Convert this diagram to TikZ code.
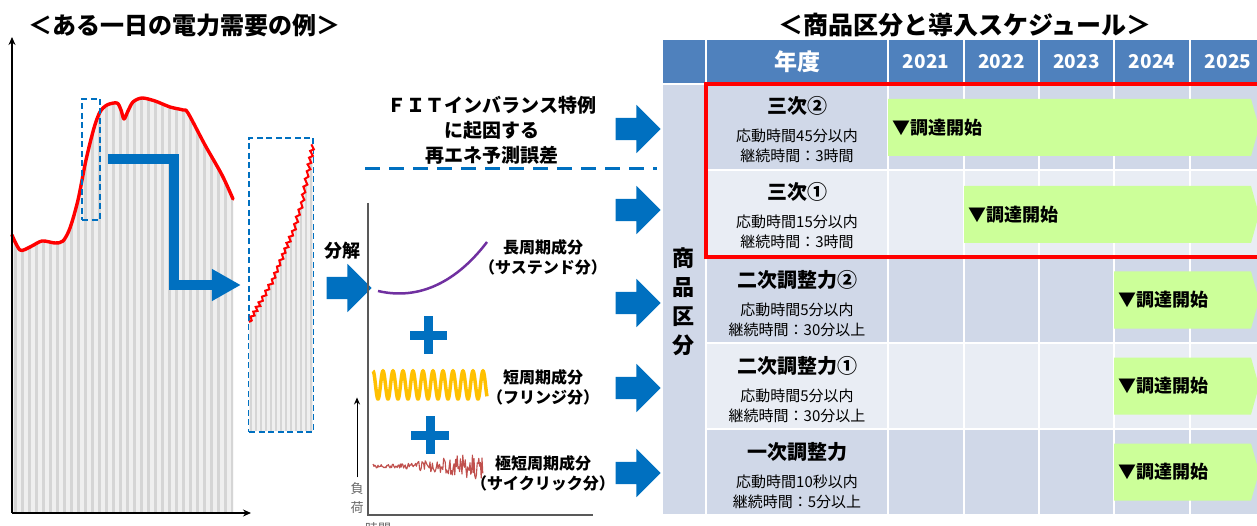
\documentclass[tikz,border=0pt]{standalone}
\usepackage{fontspec}
\setmainfont{Noto Sans CJK JP}
\usetikzlibrary{arrows.meta,shapes.arrows}
\definecolor{barrow}{HTML}{0070C0}
\definecolor{hdr}{HTML}{4F81BD}
\definecolor{rowd}{HTML}{D0D8E8}
\definecolor{rowl}{HTML}{E9EDF4}
\definecolor{grn}{HTML}{CCFF99}
\definecolor{purp}{HTML}{7030A0}
\definecolor{yel}{HTML}{FFC000}
\definecolor{nred}{HTML}{C0504D}
\definecolor{stripeg}{HTML}{D5D5D5}
\definecolor{stripel}{HTML}{EFEFEF}
\begin{document}
\begin{tikzpicture}[x=1pt,y=-1pt,
  fs/.style={font=\fontsize{#1}{#1}\selectfont},
  fb/.style={font=\bfseries\fontsize{#1}{#1}\selectfont},
  blk/.style={single arrow, fill=barrow, draw=none, inner xsep=0pt, inner ysep=11pt,
    minimum height=45pt, single arrow head extend=13pt},
  dbox/.style={draw=barrow, dashed, line width=2.2pt, dash pattern=on 6pt off 3.5pt, inner sep=0pt},
  cell/.style={draw=white, line width=1.5pt},
  plusline/.style={barrow, line width=9pt},
  larrow/.style={barrow, line width=10pt, line join=miter, -{Triangle[length=29pt,width=30pt]}},
  axisarrow/.style={line width=1.5pt, -{Stealth[length=8pt,width=7pt]}},
  rowtitle/.style={fb=20, anchor=center},
  rowtext/.style={fs=15, anchor=center},
  grnlabel/.style={fb=18, anchor=west},
  ]
\useasboundingbox (0,0) rectangle (1257,526);

% ---------- left: demand curve ----------
\node[fb=24] (ltitle) at (184,25) {＜ある一日の電力需要の例＞};

\begin{scope}
  \clip plot[smooth, tension=0.5] coordinates {(12,235) (20,250) (30,247) (42,241) (55,243) (63,241) (70,228) (78,200) (86,160) (94,128) (100,112) (107,105) (117,103) (121,110) (124,119) (128,111) (133,102) (142,98) (155,101) (170,107) (183,110) (188,113) (205,145) (222,175) (233,199)} -- (233,512) -- (12,512) -- cycle;
  \fill[stripel] (10,90) rectangle (240,512);
  \foreach \sx in {15,22,...,236} \draw[stripeg, line width=3pt] (\sx,90) -- (\sx,512);
\end{scope}
\draw[red, line width=3.4pt, line join=round, line cap=round] plot[smooth, tension=0.5] coordinates {(12,235) (20,250) (30,247) (42,241) (55,243) (63,241) (70,228) (78,200) (86,160) (94,128) (100,112) (107,105) (117,103) (121,110) (124,119) (128,111) (133,102) (142,98) (155,101) (170,107) (183,110) (188,113) (205,145) (222,175) (233,199)};

\coordinate (origin) at (12,513);
\draw[axisarrow] (origin) -- (12,37);
\draw[axisarrow] (origin) -- (251,513);

\node[dbox, minimum width=18pt, minimum height=121pt] (sbox) at (91,159.5) {};
\node[dbox, minimum width=64pt, minimum height=294pt] (bbox) at (281,285) {};

\begin{scope}
  \clip (249,322) -- (260,303) -- (273,280) -- (283,255) -- (293,232) -- (302,203) -- (308,172) -- (313,145) -- (313,431) -- (249,431) -- cycle;
  \fill[stripel] (249,140) rectangle (313,431);
  \foreach \sx in {251,256,...,313} \draw[stripeg, line width=2.5pt] (\sx,140) -- (\sx,431);
\end{scope}
\pgfmathsetseed{11}
\draw[red, line width=2pt, line join=miter] (249,322)
  \foreach \xa/\ya/\xb/\yb in {249/322/260/303, 260/303/273/280, 273/280/283/255, 283/255/293/232, 293/232/302/203, 302/203/308/172, 308/172/313/145} {
    \foreach \j in {1,...,4} {
      -- ({\xa+(\xb-\xa)*(\j-0.5)/4 + 1.8*(0.6+0.4*rnd)},{\ya+(\yb-\ya)*(\j-0.5)/4 + 1.0*(0.6+0.4*rnd)})
      -- ({\xa+(\xb-\xa)*\j/4 - 1.8*(0.6+0.4*rnd)},{\ya+(\yb-\ya)*\j/4 - 1.0*(0.6+0.4*rnd)})
    }
  };

\draw[larrow] ([xshift=7pt]sbox.east) -| ([xshift=-74pt]bbox.west) -- ([xshift=-7pt]bbox.west);

% ---------- middle ----------
\node[fb=18] (bunkai) at (342,251) {分解};
\node[blk] (a0) at (343.5,288) {};

\node[font=\bfseries\fontsize{19}{25}\selectfont, align=center] (fit) at (492,130) {ＦＩＴインバランス特例\\に起因する\\再エネ予測誤差};
\draw[barrow, line width=3pt, dash pattern=on 15pt off 9pt] (365,169) -- (657,169);

\draw[gray!70!black, line width=1.2pt] (368,203) -- (368,515) -- (593,515);

\draw[purp, line width=2.5pt] (378,291) .. controls (425,302) and (462,275) .. (487,242);
\draw[yel, line width=3.5pt] plot[domain=373:487, samples=400, smooth] (\x, {385 - 14*cos((\x-373)*36)});
\pgfmathsetseed{7}
\draw[nred, line width=1.1pt, line join=round] (373,464) \foreach \i in {374,374.8,...,483} { -- (\i,{466 + (2+12*max(0,(\i-400)/83))*rand}) };

\draw[plusline] (410,335) -- (447,335);
\draw[plusline] (428.5,316) -- (428.5,354);
\draw[plusline] (411,435) -- (449,435);
\draw[plusline] (430,416) -- (430,454);

\node[fb=16] (l1a) at (543,247) {長周期成分};
\node[fb=16] (l1b) at (543,267) {（サステンド分）};
\node[fb=16] (l2a) at (543,377) {短周期成分};
\node[fb=16] (l2b) at (543,397) {（フリンジ分）};
\node[fb=16] (l3a) at (543,463) {極短周期成分};
\node[fb=16] (l3b) at (543,483) {（サイクリック分）};

\node[fs=13, text=gray!80!black] (fu) at (357,489) {負};
\node[fs=13, text=gray!80!black] (ka) at (357,508) {荷};
\draw[line width=1pt, -{Stealth[length=7pt,width=6pt]}] ([yshift=2pt]fu.north) -- ++(0,-80);
\node[fs=13, text=gray!80!black] (jikan) at (378,529) {時間};
\draw[line width=1pt, -{Stealth[length=7pt,width=6pt]}] ([xshift=4pt,yshift=-6pt]jikan.east) -- ++(88,0);

\foreach \yy/\nm in {129/a1, 210/a2, 303/a3, 388/a4, 473/a5}
  \node[blk] (\nm) at (632.5,\yy) {};

% ---------- right: table ----------
\node[fb=25] (rtitle) at (965,25) {＜商品区分と導入スケジュール＞};

\path[cell, fill=hdr] (662,39) rectangle (706,84);
\path[cell, fill=hdr] (706,39) rectangle (888,84);
\node[fb=23, text=white] (nendo) at (797,62) {年度};
\foreach \xa/\xb/\yr in {888/964/2021, 964/1039/2022, 1039/1114/2023, 1114/1190/2024, 1190/1266/2025} {
  \path[cell, fill=hdr] (\xa,39) rectangle (\xb,84);
  \node[fb=19, text=white] (y\yr) at ({(\xa+\xb)/2},62) {\yr};
}
\path[cell, fill=rowd] (662,84) rectangle (706,515);
\foreach \ta/\tb/\cc in {84/170/rowd, 170/256/rowl, 256/343/rowd, 343/429/rowl, 429/515/rowd} {
  \path[cell, fill=\cc] (706,\ta) rectangle (888,\tb);
  \foreach \xa/\xb in {888/964, 964/1039, 1039/1114, 1114/1190, 1190/1266}
    \path[cell, fill=\cc] (\xa,\ta) rectangle (\xb,\tb);
}
\node[font=\bfseries\fontsize{22}{29}\selectfont, align=center] (shohin) at (683,302) {商\\品\\区\\分};

\node[rowtitle] (r1t) at (797,106) {三次②};
\node[rowtext] (r1a) at (797,136) {応動時間45分以内};
\node[rowtext] (r1b) at (797,156) {継続時間：3時間};
\node[rowtitle] (r2t) at (797,192) {三次①};
\node[rowtext] (r2a) at (797,222) {応動時間15分以内};
\node[rowtext] (r2b) at (797,242) {継続時間：3時間};
\node[rowtitle] (r3t) at (797,280) {二次調整力②};
\node[rowtext] (r3a) at (797,310) {応動時間5分以内};
\node[rowtext] (r3b) at (797,330) {継続時間：30分以上};
\node[rowtitle] (r4t) at (797,366) {二次調整力①};
\node[rowtext] (r4a) at (797,396) {応動時間5分以内};
\node[rowtext] (r4b) at (797,416) {継続時間：30分以上};
\node[rowtitle] (r5t) at (797,452) {一次調整力};
\node[rowtext] (r5a) at (797,482) {応動時間10秒以内};
\node[rowtext] (r5b) at (797,502) {継続時間：5分以上};

\foreach \xs/\mid/\nm in {888/127.5/g1, 964/214.5/g2, 1114/300/g3, 1114/386/g4, 1114/472/g5} {
  \fill[grn] (\xs,\mid-28.5) -- (1251,\mid-28.5) -- (1259,\mid) -- (1251,\mid+28.5) -- (\xs,\mid+28.5) -- cycle;
  \node[grnlabel] (\nm) at (\xs+1,\mid) {▼調達開始};
}

\draw[red, line width=3.5pt] (706,84) rectangle (1290,257);
\end{tikzpicture}
\end{document}
